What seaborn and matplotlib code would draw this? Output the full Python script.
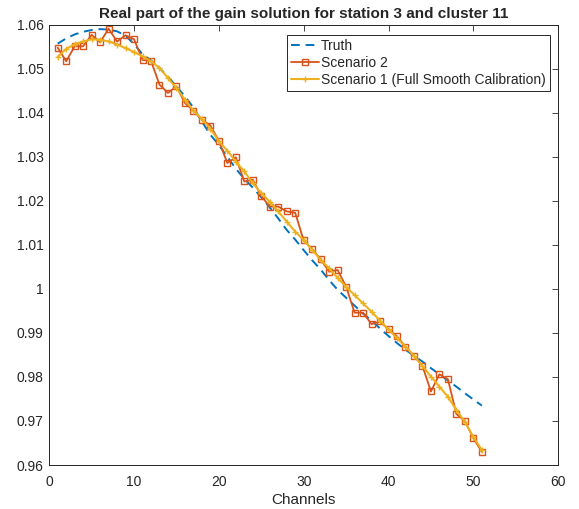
"""
Real part of the gain solution: station 3, cluster 11
Truth vs Scenario 2 vs Scenario 1 (full smooth calibration)
"""

import numpy as np
import pandas as pd
import matplotlib
matplotlib.use("Agg")
import matplotlib.pyplot as plt
import seaborn as sns

# ─── Data ────────────────────────────────────────────────────────────────────
channels = list(range(1, 52))

truth = [1.0557, 1.0569, 1.0578, 1.0584, 1.0588, 1.0590, 1.0589, 1.0585, 1.0575, 1.0556,
         1.0533, 1.0519, 1.0502, 1.0482, 1.0460, 1.0437, 1.0412, 1.0380, 1.0350, 1.0327,
         1.0300, 1.0273, 1.0250, 1.0230, 1.0208, 1.0185, 1.0160, 1.0134, 1.0112, 1.0088,
         1.0065, 1.0044, 1.0020, 0.9998, 0.9980, 0.9962, 0.9944, 0.9928, 0.9910, 0.9893,
         0.9877, 0.9862, 0.9848, 0.9835, 0.9820, 0.9806, 0.9792, 0.9778, 0.9763, 0.9749,
         0.9735]

scenario2 = [1.0548, 1.0517, 1.0551, 1.0551, 1.0577, 1.0560, 1.0591, 1.0562, 1.0576, 1.0567,
             1.0520, 1.0518, 1.0464, 1.0445, 1.0460, 1.0422, 1.0405, 1.0384, 1.0371, 1.0336,
             1.0286, 1.0299, 1.0244, 1.0248, 1.0211, 1.0187, 1.0187, 1.0176, 1.0173, 1.0110,
             1.0091, 1.0067, 1.0039, 1.0043, 1.0005, 0.9946, 0.9946, 0.9920, 0.9926, 0.9908,
             0.9892, 0.9869, 0.9848, 0.9825, 0.9767, 0.9806, 0.9795, 0.9716, 0.9700, 0.9661,
             0.9630]

scenario1 = [1.0527, 1.0545, 1.0556, 1.0562, 1.0567, 1.0566, 1.0562, 1.0555, 1.0547, 1.0538,
             1.0528, 1.0517, 1.0502, 1.0479, 1.0456, 1.0430, 1.0405, 1.0386, 1.0364, 1.0335,
             1.0314, 1.0289, 1.0267, 1.0240, 1.0218, 1.0198, 1.0176, 1.0153, 1.0130, 1.0111,
             1.0089, 1.0066, 1.0047, 1.0025, 1.0005, 0.9986, 0.9967, 0.9948, 0.9928, 0.9908,
             0.9888, 0.9869, 0.9848, 0.9825, 0.9801, 0.9778, 0.9755, 0.9725, 0.9698, 0.9664,
             0.9634]

df = pd.DataFrame({"channel": channels, "truth": truth,
                   "scenario2": scenario2, "scenario1": scenario1})

# ─── Style (MATLAB-like) ─────────────────────────────────────────────────────
sns.set_style("white")
plt.rcParams["font.family"] = ["Liberation Sans", "DejaVu Sans"]

BLUE, RED, YELLOW = "#0072BD", "#D95319", "#EDB120"
AX_COLOR = "#262626"

fig = plt.figure(figsize=(5.79, 5.09), dpi=100)
ax = fig.add_axes([0.085, 0.0864, 0.879, 0.865])

# ─── Lines ───────────────────────────────────────────────────────────────────
sns.lineplot(data=df, x="channel", y="truth", ax=ax, color=BLUE,
             linewidth=1.4, dashes=False, label="Truth")
ax.lines[-1].set_dashes((4.5, 3))

sns.lineplot(data=df, x="channel", y="scenario2", ax=ax, color=RED,
             linewidth=1.3, marker="s", markersize=4.6, markerfacecolor="none",
             markeredgecolor=RED, markeredgewidth=1.0, label="Scenario 2")

sns.lineplot(data=df, x="channel", y="scenario1", ax=ax, color=YELLOW,
             linewidth=1.5, marker="+", markersize=5, markeredgewidth=1.0,
             markeredgecolor=YELLOW, label="Scenario 1 (Full Smooth Calibration)")

# ─── Axes ────────────────────────────────────────────────────────────────────
ax.set_xlim(0, 60)
ax.set_ylim(0.96, 1.06)
ax.set_xticks(np.arange(0, 61, 10))
ax.set_yticks(np.arange(0.96, 1.0601, 0.01))
ax.set_yticklabels(["0.96", "0.97", "0.98", "0.99", "1", "1.01",
                    "1.02", "1.03", "1.04", "1.05", "1.06"])
ax.tick_params(direction="in", top=True, right=True, length=4, width=0.6,
               colors=AX_COLOR, labelsize=10, pad=4)
ax.tick_params(axis="x", pad=7)
for side in ["left", "right", "top", "bottom"]:
    ax.spines[side].set_visible(True)
    ax.spines[side].set_color(AX_COLOR)
    ax.spines[side].set_linewidth(0.7)

ax.set_xlabel("Channels", fontsize=11, color=AX_COLOR, labelpad=3)
ax.set_ylabel("")
ax.set_title("Real part of the gain solution for station 3 and cluster 11",
             fontsize=11, fontweight="bold", pad=5)

leg = ax.legend(loc="upper right", bbox_to_anchor=(0.983, 0.977), fontsize=10,
                frameon=True, fancybox=False, framealpha=1, edgecolor=AX_COLOR,
                borderpad=0.3, labelspacing=0.2, handlelength=2.0,
                handletextpad=0.1, borderaxespad=0)
leg.get_frame().set_linewidth(0.7)

plt.savefig("out.png", dpi=100)
plt.close()
